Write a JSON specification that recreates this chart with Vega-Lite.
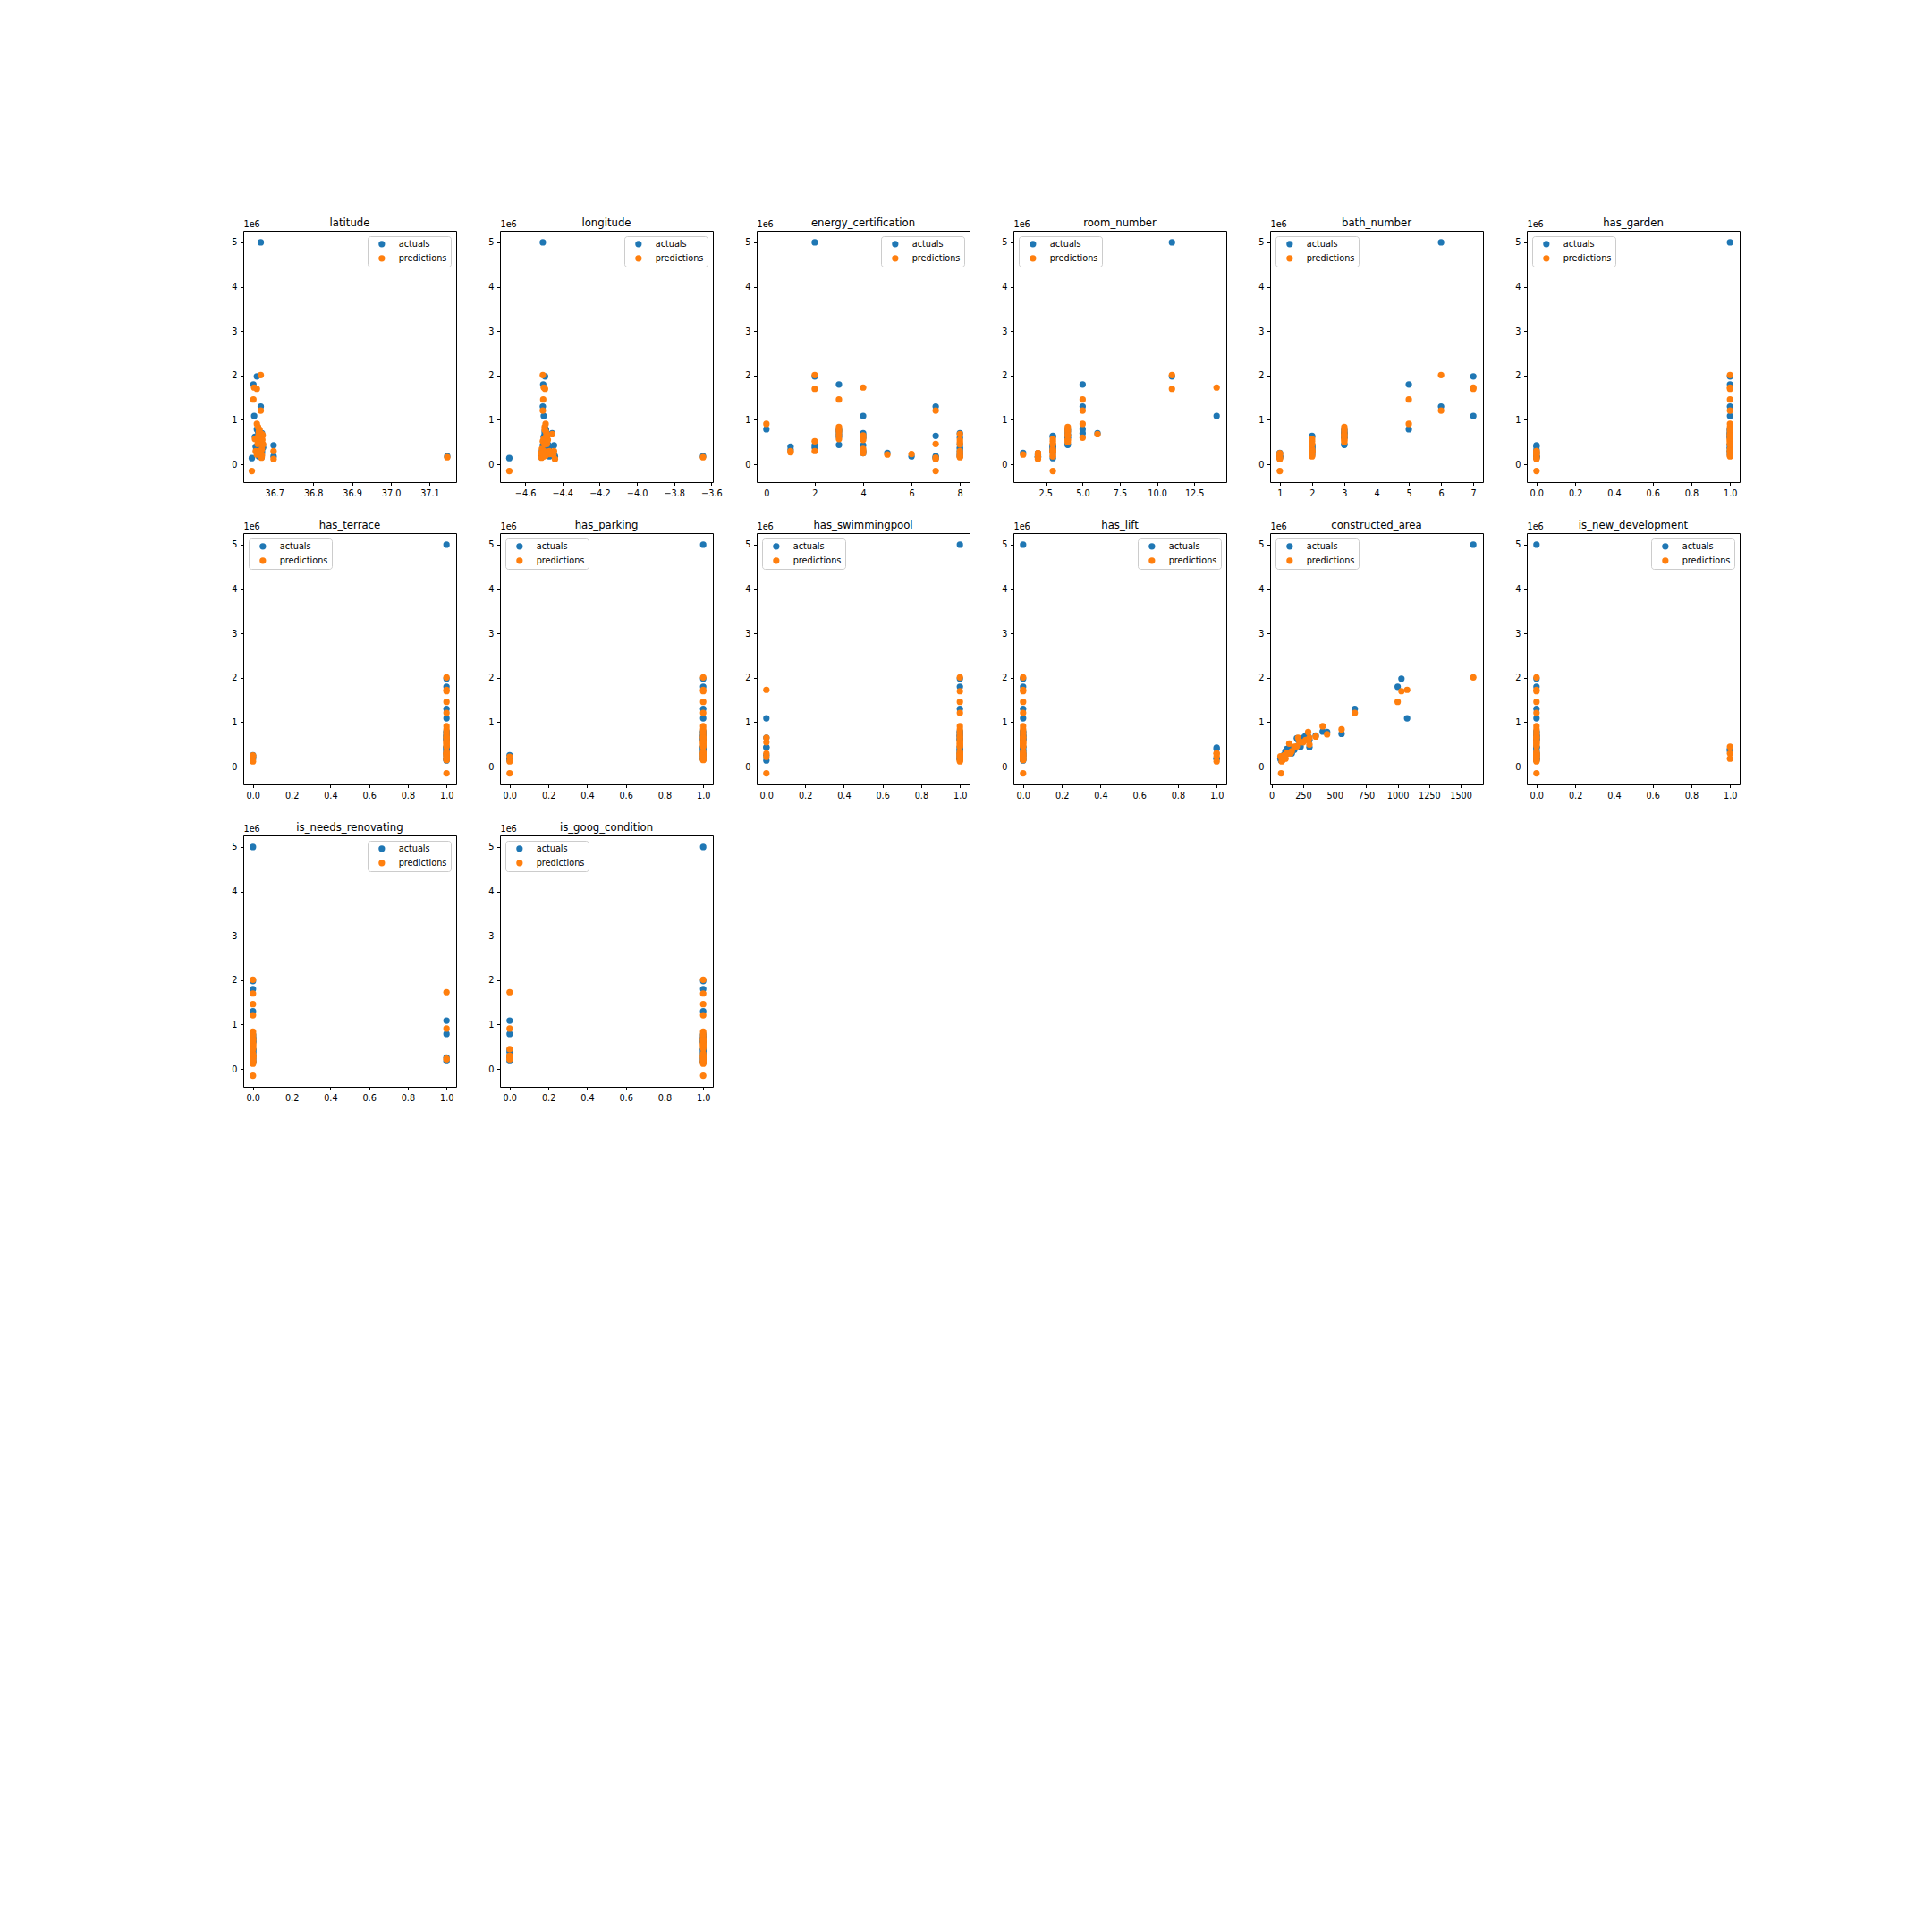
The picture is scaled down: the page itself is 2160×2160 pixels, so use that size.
{
  "$schema": "https://vega.github.io/schema/vega-lite/v6.json",
  "background": "white",
  "padding": {"left": 258, "top": 243, "right": 10, "bottom": 10},
  "data": {"values": [
    {"latitude":36.665,"longitude":-4.505,"energy_certification":2,"room_number":11,"bath_number":6,"has_garden":1,"has_terrace":1,"has_parking":1,"has_swimmingpool":1,"has_lift":0,"constructed_area":1600,"is_new_development":0,"is_needs_renovating":0,"is_goog_condition":1,"actuals":5.0,"predictions":2.01},
    {"latitude":36.655,"longitude":-4.493,"energy_certification":2,"room_number":11,"bath_number":7,"has_garden":1,"has_terrace":1,"has_parking":1,"has_swimmingpool":1,"has_lift":0,"constructed_area":1030,"is_new_development":0,"is_needs_renovating":0,"is_goog_condition":1,"actuals":1.98,"predictions":1.70},
    {"latitude":36.646,"longitude":-4.503,"energy_certification":3,"room_number":5,"bath_number":5,"has_garden":1,"has_terrace":1,"has_parking":1,"has_swimmingpool":1,"has_lift":0,"constructed_area":1000,"is_new_development":0,"is_needs_renovating":0,"is_goog_condition":1,"actuals":1.80,"predictions":1.46},
    {"latitude":36.648,"longitude":-4.500,"energy_certification":4,"room_number":14,"bath_number":7,"has_garden":1,"has_terrace":1,"has_parking":1,"has_swimmingpool":0,"has_lift":0,"constructed_area":1075,"is_new_development":0,"is_needs_renovating":1,"is_goog_condition":0,"actuals":1.09,"predictions":1.73},
    {"latitude":36.665,"longitude":-4.505,"energy_certification":7,"room_number":5,"bath_number":6,"has_garden":1,"has_terrace":1,"has_parking":1,"has_swimmingpool":1,"has_lift":0,"constructed_area":660,"is_new_development":0,"is_needs_renovating":0,"is_goog_condition":1,"actuals":1.30,"predictions":1.21},
    {"latitude":36.655,"longitude":-4.490,"energy_certification":0,"room_number":5,"bath_number":5,"has_garden":1,"has_terrace":1,"has_parking":1,"has_swimmingpool":1,"has_lift":0,"constructed_area":405,"is_new_development":0,"is_needs_renovating":1,"is_goog_condition":0,"actuals":0.79,"predictions":0.91},
    {"latitude":36.660,"longitude":-4.488,"energy_certification":3,"room_number":4,"bath_number":3,"has_garden":1,"has_terrace":1,"has_parking":1,"has_swimmingpool":1,"has_lift":0,"constructed_area":440,"is_new_development":0,"is_needs_renovating":0,"is_goog_condition":1,"actuals":0.78,"predictions":0.73},
    {"latitude":36.658,"longitude":-4.495,"energy_certification":3,"room_number":4,"bath_number":3,"has_garden":1,"has_terrace":1,"has_parking":1,"has_swimmingpool":1,"has_lift":0,"constructed_area":555,"is_new_development":0,"is_needs_renovating":0,"is_goog_condition":1,"actuals":0.74,"predictions":0.84},
    {"latitude":36.668,"longitude":-4.455,"energy_certification":8,"room_number":6,"bath_number":3,"has_garden":1,"has_terrace":1,"has_parking":1,"has_swimmingpool":1,"has_lift":0,"constructed_area":350,"is_new_development":0,"is_needs_renovating":0,"is_goog_condition":1,"actuals":0.70,"predictions":0.68},
    {"latitude":36.662,"longitude":-4.492,"energy_certification":4,"room_number":5,"bath_number":3,"has_garden":1,"has_terrace":1,"has_parking":1,"has_swimmingpool":1,"has_lift":0,"constructed_area":270,"is_new_development":0,"is_needs_renovating":0,"is_goog_condition":1,"actuals":0.70,"predictions":0.60},
    {"latitude":36.650,"longitude":-4.500,"energy_certification":3,"room_number":3,"bath_number":2,"has_garden":1,"has_terrace":1,"has_parking":1,"has_swimmingpool":1,"has_lift":0,"constructed_area":220,"is_new_development":0,"is_needs_renovating":0,"is_goog_condition":1,"actuals":0.62,"predictions":0.57},
    {"latitude":36.670,"longitude":-4.480,"energy_certification":3,"room_number":4,"bath_number":3,"has_garden":1,"has_terrace":1,"has_parking":1,"has_swimmingpool":0,"has_lift":0,"constructed_area":300,"is_new_development":0,"is_needs_renovating":0,"is_goog_condition":1,"actuals":0.44,"predictions":0.65},
    {"latitude":36.664,"longitude":-4.490,"energy_certification":8,"room_number":4,"bath_number":3,"has_garden":1,"has_terrace":1,"has_parking":1,"has_swimmingpool":1,"has_lift":0,"constructed_area":300,"is_new_development":0,"is_needs_renovating":0,"is_goog_condition":1,"actuals":0.60,"predictions":0.50},
    {"latitude":36.642,"longitude":-4.685,"energy_certification":7,"room_number":3,"bath_number":1,"has_garden":0,"has_terrace":1,"has_parking":0,"has_swimmingpool":0,"has_lift":0,"constructed_area":75,"is_new_development":0,"is_needs_renovating":0,"is_goog_condition":1,"actuals":0.14,"predictions":-0.15},
    {"latitude":37.145,"longitude":-3.645,"energy_certification":8,"room_number":2,"bath_number":1,"has_garden":0,"has_terrace":1,"has_parking":1,"has_swimmingpool":1,"has_lift":0,"constructed_area":90,"is_new_development":0,"is_needs_renovating":0,"is_goog_condition":1,"actuals":0.18,"predictions":0.16},
    {"latitude":36.698,"longitude":-4.445,"energy_certification":4,"room_number":3,"bath_number":2,"has_garden":0,"has_terrace":1,"has_parking":1,"has_swimmingpool":0,"has_lift":1,"constructed_area":150,"is_new_development":0,"is_needs_renovating":0,"is_goog_condition":0,"actuals":0.43,"predictions":0.30},
    {"latitude":36.698,"longitude":-4.440,"energy_certification":7,"room_number":2,"bath_number":1,"has_garden":0,"has_terrace":0,"has_parking":0,"has_swimmingpool":1,"has_lift":1,"constructed_area":80,"is_new_development":0,"is_needs_renovating":0,"is_goog_condition":1,"actuals":0.18,"predictions":0.12},
    {"latitude":36.660,"longitude":-4.470,"energy_certification":6,"room_number":2,"bath_number":1,"has_garden":0,"has_terrace":1,"has_parking":1,"has_swimmingpool":1,"has_lift":1,"constructed_area":70,"is_new_development":0,"is_needs_renovating":1,"is_goog_condition":0,"actuals":0.18,"predictions":0.23},
    {"latitude":36.655,"longitude":-4.448,"energy_certification":5,"room_number":1,"bath_number":1,"has_garden":0,"has_terrace":0,"has_parking":0,"has_swimmingpool":0,"has_lift":0,"constructed_area":95,"is_new_development":0,"is_needs_renovating":1,"is_goog_condition":0,"actuals":0.26,"predictions":0.22},
    {"latitude":36.652,"longitude":-4.470,"energy_certification":1,"room_number":3,"bath_number":2,"has_garden":0,"has_terrace":1,"has_parking":1,"has_swimmingpool":1,"has_lift":1,"constructed_area":120,"is_new_development":1,"is_needs_renovating":0,"is_goog_condition":1,"actuals":0.40,"predictions":0.30},
    {"latitude":36.658,"longitude":-4.500,"energy_certification":1,"room_number":3,"bath_number":2,"has_garden":0,"has_terrace":1,"has_parking":1,"has_swimmingpool":1,"has_lift":0,"constructed_area":110,"is_new_development":0,"is_needs_renovating":0,"is_goog_condition":1,"actuals":0.33,"predictions":0.27},
    {"latitude":36.662,"longitude":-4.505,"energy_certification":2,"room_number":3,"bath_number":2,"has_garden":1,"has_terrace":1,"has_parking":1,"has_swimmingpool":1,"has_lift":0,"constructed_area":140,"is_new_development":0,"is_needs_renovating":0,"is_goog_condition":1,"actuals":0.43,"predictions":0.52},
    {"latitude":36.666,"longitude":-4.498,"energy_certification":2,"room_number":3,"bath_number":2,"has_garden":1,"has_terrace":1,"has_parking":1,"has_swimmingpool":1,"has_lift":0,"constructed_area":130,"is_new_development":0,"is_needs_renovating":0,"is_goog_condition":1,"actuals":0.38,"predictions":0.30},
    {"latitude":36.660,"longitude":-4.487,"energy_certification":4,"room_number":4,"bath_number":3,"has_garden":1,"has_terrace":1,"has_parking":1,"has_swimmingpool":0,"has_lift":0,"constructed_area":250,"is_new_development":0,"is_needs_renovating":0,"is_goog_condition":1,"actuals":0.65,"predictions":0.55},
    {"latitude":36.668,"longitude":-4.510,"energy_certification":4,"room_number":3,"bath_number":2,"has_garden":1,"has_terrace":1,"has_parking":1,"has_swimmingpool":1,"has_lift":0,"constructed_area":160,"is_new_development":0,"is_needs_renovating":0,"is_goog_condition":1,"actuals":0.30,"predictions":0.35},
    {"latitude":36.663,"longitude":-4.508,"energy_certification":4,"room_number":2,"bath_number":1,"has_garden":0,"has_terrace":1,"has_parking":1,"has_swimmingpool":1,"has_lift":0,"constructed_area":100,"is_new_development":0,"is_needs_renovating":0,"is_goog_condition":1,"actuals":0.25,"predictions":0.25},
    {"latitude":36.657,"longitude":-4.483,"energy_certification":7,"room_number":3,"bath_number":2,"has_garden":1,"has_terrace":1,"has_parking":1,"has_swimmingpool":1,"has_lift":0,"constructed_area":200,"is_new_development":0,"is_needs_renovating":0,"is_goog_condition":1,"actuals":0.64,"predictions":0.46},
    {"latitude":36.667,"longitude":-4.512,"energy_certification":7,"room_number":2,"bath_number":1,"has_garden":0,"has_terrace":1,"has_parking":1,"has_swimmingpool":1,"has_lift":0,"constructed_area":85,"is_new_development":0,"is_needs_renovating":0,"is_goog_condition":1,"actuals":0.16,"predictions":0.15},
    {"latitude":36.669,"longitude":-4.478,"energy_certification":8,"room_number":4,"bath_number":3,"has_garden":1,"has_terrace":1,"has_parking":1,"has_swimmingpool":1,"has_lift":0,"constructed_area":230,"is_new_development":0,"is_needs_renovating":0,"is_goog_condition":1,"actuals":0.45,"predictions":0.55},
    {"latitude":36.671,"longitude":-4.495,"energy_certification":8,"room_number":3,"bath_number":2,"has_garden":1,"has_terrace":1,"has_parking":1,"has_swimmingpool":1,"has_lift":0,"constructed_area":180,"is_new_development":1,"is_needs_renovating":0,"is_goog_condition":0,"actuals":0.38,"predictions":0.45},
    {"latitude":36.664,"longitude":-4.505,"energy_certification":8,"room_number":3,"bath_number":2,"has_garden":1,"has_terrace":1,"has_parking":1,"has_swimmingpool":1,"has_lift":0,"constructed_area":120,"is_new_development":0,"is_needs_renovating":0,"is_goog_condition":0,"actuals":0.30,"predictions":0.30},
    {"latitude":36.660,"longitude":-4.515,"energy_certification":8,"room_number":2,"bath_number":2,"has_garden":1,"has_terrace":0,"has_parking":1,"has_swimmingpool":1,"has_lift":0,"constructed_area":100,"is_new_development":0,"is_needs_renovating":0,"is_goog_condition":1,"actuals":0.22,"predictions":0.25},
    {"latitude":36.667,"longitude":-4.500,"energy_certification":8,"room_number":3,"bath_number":2,"has_garden":1,"has_terrace":1,"has_parking":1,"has_swimmingpool":1,"has_lift":0,"constructed_area":110,"is_new_development":1,"is_needs_renovating":0,"is_goog_condition":1,"actuals":0.35,"predictions":0.18},
    {"latitude":36.668,"longitude":-4.490,"energy_certification":8,"room_number":3,"bath_number":2,"has_garden":1,"has_terrace":1,"has_parking":1,"has_swimmingpool":1,"has_lift":0,"constructed_area":95,"is_new_development":0,"is_needs_renovating":0,"is_goog_condition":1,"actuals":0.25,"predictions":0.20},
    {"latitude":36.662,"longitude":-4.495,"energy_certification":3,"room_number":4,"bath_number":3,"has_garden":1,"has_terrace":1,"has_parking":1,"has_swimmingpool":1,"has_lift":0,"constructed_area":290,"is_new_development":0,"is_needs_renovating":0,"is_goog_condition":1,"actuals":0.68,"predictions":0.78},
    {"latitude":36.659,"longitude":-4.485,"energy_certification":4,"room_number":4,"bath_number":3,"has_garden":1,"has_terrace":1,"has_parking":1,"has_swimmingpool":1,"has_lift":0,"constructed_area":210,"is_new_development":0,"is_needs_renovating":0,"is_goog_condition":1,"actuals":0.60,"predictions":0.65}
  ]},
  "transform": [{"fold": ["actuals", "predictions"], "as": ["series", "price"]}],
  "columns": 6,
  "spacing": {"row": 57, "column": 49},
  "bounds": "flush",
  "resolve": {"scale": {"x": "independent", "y": "independent", "color": "independent"}, "legend": {"color": "independent"}},
  "concat": [
    {"title": "latitude", "width": 238, "height": 281, "mark": {"type": "point", "filled": true, "opacity": 1, "size": 52},
     "encoding": {
       "x": {"field": "latitude", "type": "quantitative", "title": null, "scale": {"domain": [36.62, 37.168], "nice": false, "zero": false}, "axis": {"values": [36.7, 36.8, 36.9, 37.0, 37.1], "format": ".1f"}},
       "y": {"field": "price", "type": "quantitative", "title": "1e6", "scale": {"domain": [-0.4, 5.26], "nice": false, "zero": false}, "axis": {"values": [0, 1, 2, 3, 4, 5], "format": "d"}},
       "color": {"field": "series", "type": "nominal", "scale": {"domain": ["actuals", "predictions"], "range": ["#1f77b4", "#ff7f0e"]}, "legend": {"orient": "top-right"}},
       "order": {"field": "series"}}},
    {"title": "longitude", "width": 238, "height": 281, "mark": {"type": "point", "filled": true, "opacity": 1, "size": 52},
     "encoding": {
       "x": {"field": "longitude", "type": "quantitative", "title": null, "scale": {"domain": [-4.735, -3.592], "nice": false, "zero": false}, "axis": {"values": [-4.6, -4.4, -4.2, -4.0, -3.8, -3.6], "format": ".1f"}},
       "y": {"field": "price", "type": "quantitative", "title": "1e6", "scale": {"domain": [-0.4, 5.26], "nice": false, "zero": false}, "axis": {"values": [0, 1, 2, 3, 4, 5], "format": "d"}},
       "color": {"field": "series", "type": "nominal", "scale": {"domain": ["actuals", "predictions"], "range": ["#1f77b4", "#ff7f0e"]}, "legend": {"orient": "top-right"}},
       "order": {"field": "series"}}},
    {"title": "energy_certification", "width": 238, "height": 281, "mark": {"type": "point", "filled": true, "opacity": 1, "size": 52},
     "encoding": {
       "x": {"field": "energy_certification", "type": "quantitative", "title": null, "scale": {"domain": [-0.4, 8.4], "nice": false, "zero": false}, "axis": {"values": [0, 2, 4, 6, 8], "format": "d"}},
       "y": {"field": "price", "type": "quantitative", "title": "1e6", "scale": {"domain": [-0.4, 5.26], "nice": false, "zero": false}, "axis": {"values": [0, 1, 2, 3, 4, 5], "format": "d"}},
       "color": {"field": "series", "type": "nominal", "scale": {"domain": ["actuals", "predictions"], "range": ["#1f77b4", "#ff7f0e"]}, "legend": {"orient": "top-right"}},
       "order": {"field": "series"}}},
    {"title": "room_number", "width": 238, "height": 281, "mark": {"type": "point", "filled": true, "opacity": 1, "size": 52},
     "encoding": {
       "x": {"field": "room_number", "type": "quantitative", "title": null, "scale": {"domain": [0.35, 14.65], "nice": false, "zero": false}, "axis": {"values": [2.5, 5, 7.5, 10, 12.5], "format": ".1f"}},
       "y": {"field": "price", "type": "quantitative", "title": "1e6", "scale": {"domain": [-0.4, 5.26], "nice": false, "zero": false}, "axis": {"values": [0, 1, 2, 3, 4, 5], "format": "d"}},
       "color": {"field": "series", "type": "nominal", "scale": {"domain": ["actuals", "predictions"], "range": ["#1f77b4", "#ff7f0e"]}, "legend": {"orient": "top-left"}},
       "order": {"field": "series"}}},
    {"title": "bath_number", "width": 238, "height": 281, "mark": {"type": "point", "filled": true, "opacity": 1, "size": 52},
     "encoding": {
       "x": {"field": "bath_number", "type": "quantitative", "title": null, "scale": {"domain": [0.7, 7.3], "nice": false, "zero": false}, "axis": {"values": [1, 2, 3, 4, 5, 6, 7], "format": "d"}},
       "y": {"field": "price", "type": "quantitative", "title": "1e6", "scale": {"domain": [-0.4, 5.26], "nice": false, "zero": false}, "axis": {"values": [0, 1, 2, 3, 4, 5], "format": "d"}},
       "color": {"field": "series", "type": "nominal", "scale": {"domain": ["actuals", "predictions"], "range": ["#1f77b4", "#ff7f0e"]}, "legend": {"orient": "top-left"}},
       "order": {"field": "series"}}},
    {"title": "has_garden", "width": 238, "height": 281, "mark": {"type": "point", "filled": true, "opacity": 1, "size": 52},
     "encoding": {
       "x": {"field": "has_garden", "type": "quantitative", "title": null, "scale": {"domain": [-0.05, 1.05], "nice": false, "zero": false}, "axis": {"values": [0, 0.2, 0.4, 0.6, 0.8, 1], "format": ".1f"}},
       "y": {"field": "price", "type": "quantitative", "title": "1e6", "scale": {"domain": [-0.4, 5.26], "nice": false, "zero": false}, "axis": {"values": [0, 1, 2, 3, 4, 5], "format": "d"}},
       "color": {"field": "series", "type": "nominal", "scale": {"domain": ["actuals", "predictions"], "range": ["#1f77b4", "#ff7f0e"]}, "legend": {"orient": "top-left"}},
       "order": {"field": "series"}}},
    {"title": "has_terrace", "width": 238, "height": 281, "mark": {"type": "point", "filled": true, "opacity": 1, "size": 52},
     "encoding": {
       "x": {"field": "has_terrace", "type": "quantitative", "title": null, "scale": {"domain": [-0.05, 1.05], "nice": false, "zero": false}, "axis": {"values": [0, 0.2, 0.4, 0.6, 0.8, 1], "format": ".1f"}},
       "y": {"field": "price", "type": "quantitative", "title": "1e6", "scale": {"domain": [-0.4, 5.26], "nice": false, "zero": false}, "axis": {"values": [0, 1, 2, 3, 4, 5], "format": "d"}},
       "color": {"field": "series", "type": "nominal", "scale": {"domain": ["actuals", "predictions"], "range": ["#1f77b4", "#ff7f0e"]}, "legend": {"orient": "top-left"}},
       "order": {"field": "series"}}},
    {"title": "has_parking", "width": 238, "height": 281, "mark": {"type": "point", "filled": true, "opacity": 1, "size": 52},
     "encoding": {
       "x": {"field": "has_parking", "type": "quantitative", "title": null, "scale": {"domain": [-0.05, 1.05], "nice": false, "zero": false}, "axis": {"values": [0, 0.2, 0.4, 0.6, 0.8, 1], "format": ".1f"}},
       "y": {"field": "price", "type": "quantitative", "title": "1e6", "scale": {"domain": [-0.4, 5.26], "nice": false, "zero": false}, "axis": {"values": [0, 1, 2, 3, 4, 5], "format": "d"}},
       "color": {"field": "series", "type": "nominal", "scale": {"domain": ["actuals", "predictions"], "range": ["#1f77b4", "#ff7f0e"]}, "legend": {"orient": "top-left"}},
       "order": {"field": "series"}}},
    {"title": "has_swimmingpool", "width": 238, "height": 281, "mark": {"type": "point", "filled": true, "opacity": 1, "size": 52},
     "encoding": {
       "x": {"field": "has_swimmingpool", "type": "quantitative", "title": null, "scale": {"domain": [-0.05, 1.05], "nice": false, "zero": false}, "axis": {"values": [0, 0.2, 0.4, 0.6, 0.8, 1], "format": ".1f"}},
       "y": {"field": "price", "type": "quantitative", "title": "1e6", "scale": {"domain": [-0.4, 5.26], "nice": false, "zero": false}, "axis": {"values": [0, 1, 2, 3, 4, 5], "format": "d"}},
       "color": {"field": "series", "type": "nominal", "scale": {"domain": ["actuals", "predictions"], "range": ["#1f77b4", "#ff7f0e"]}, "legend": {"orient": "top-left"}},
       "order": {"field": "series"}}},
    {"title": "has_lift", "width": 238, "height": 281, "mark": {"type": "point", "filled": true, "opacity": 1, "size": 52},
     "encoding": {
       "x": {"field": "has_lift", "type": "quantitative", "title": null, "scale": {"domain": [-0.05, 1.05], "nice": false, "zero": false}, "axis": {"values": [0, 0.2, 0.4, 0.6, 0.8, 1], "format": ".1f"}},
       "y": {"field": "price", "type": "quantitative", "title": "1e6", "scale": {"domain": [-0.4, 5.26], "nice": false, "zero": false}, "axis": {"values": [0, 1, 2, 3, 4, 5], "format": "d"}},
       "color": {"field": "series", "type": "nominal", "scale": {"domain": ["actuals", "predictions"], "range": ["#1f77b4", "#ff7f0e"]}, "legend": {"orient": "top-right"}},
       "order": {"field": "series"}}},
    {"title": "constructed_area", "width": 238, "height": 281, "mark": {"type": "point", "filled": true, "opacity": 1, "size": 52},
     "encoding": {
       "x": {"field": "constructed_area", "type": "quantitative", "title": null, "scale": {"domain": [-12, 1677], "nice": false, "zero": false}, "axis": {"values": [0, 250, 500, 750, 1000, 1250, 1500], "format": "d"}},
       "y": {"field": "price", "type": "quantitative", "title": "1e6", "scale": {"domain": [-0.4, 5.26], "nice": false, "zero": false}, "axis": {"values": [0, 1, 2, 3, 4, 5], "format": "d"}},
       "color": {"field": "series", "type": "nominal", "scale": {"domain": ["actuals", "predictions"], "range": ["#1f77b4", "#ff7f0e"]}, "legend": {"orient": "top-left"}},
       "order": {"field": "series"}}},
    {"title": "is_new_development", "width": 238, "height": 281, "mark": {"type": "point", "filled": true, "opacity": 1, "size": 52},
     "encoding": {
       "x": {"field": "is_new_development", "type": "quantitative", "title": null, "scale": {"domain": [-0.05, 1.05], "nice": false, "zero": false}, "axis": {"values": [0, 0.2, 0.4, 0.6, 0.8, 1], "format": ".1f"}},
       "y": {"field": "price", "type": "quantitative", "title": "1e6", "scale": {"domain": [-0.4, 5.26], "nice": false, "zero": false}, "axis": {"values": [0, 1, 2, 3, 4, 5], "format": "d"}},
       "color": {"field": "series", "type": "nominal", "scale": {"domain": ["actuals", "predictions"], "range": ["#1f77b4", "#ff7f0e"]}, "legend": {"orient": "top-right"}},
       "order": {"field": "series"}}},
    {"title": "is_needs_renovating", "width": 238, "height": 281, "mark": {"type": "point", "filled": true, "opacity": 1, "size": 52},
     "encoding": {
       "x": {"field": "is_needs_renovating", "type": "quantitative", "title": null, "scale": {"domain": [-0.05, 1.05], "nice": false, "zero": false}, "axis": {"values": [0, 0.2, 0.4, 0.6, 0.8, 1], "format": ".1f"}},
       "y": {"field": "price", "type": "quantitative", "title": "1e6", "scale": {"domain": [-0.4, 5.26], "nice": false, "zero": false}, "axis": {"values": [0, 1, 2, 3, 4, 5], "format": "d"}},
       "color": {"field": "series", "type": "nominal", "scale": {"domain": ["actuals", "predictions"], "range": ["#1f77b4", "#ff7f0e"]}, "legend": {"orient": "top-right"}},
       "order": {"field": "series"}}},
    {"title": "is_goog_condition", "width": 238, "height": 281, "mark": {"type": "point", "filled": true, "opacity": 1, "size": 52},
     "encoding": {
       "x": {"field": "is_goog_condition", "type": "quantitative", "title": null, "scale": {"domain": [-0.05, 1.05], "nice": false, "zero": false}, "axis": {"values": [0, 0.2, 0.4, 0.6, 0.8, 1], "format": ".1f"}},
       "y": {"field": "price", "type": "quantitative", "title": "1e6", "scale": {"domain": [-0.4, 5.26], "nice": false, "zero": false}, "axis": {"values": [0, 1, 2, 3, 4, 5], "format": "d"}},
       "color": {"field": "series", "type": "nominal", "scale": {"domain": ["actuals", "predictions"], "range": ["#1f77b4", "#ff7f0e"]}, "legend": {"orient": "top-left"}},
       "order": {"field": "series"}}}
  ],
  "config": {
    "view": {"stroke": "black", "strokeWidth": 1},
    "font": "DejaVu Sans",
    "axis": {"domain": false, "grid": false, "tickColor": "black", "tickSize": 3.5, "tickWidth": 1, "labelColor": "black", "labelFont": "DejaVu Sans", "labelFontSize": 9.7, "labelPadding": 3.5, "labelFlush": false, "labelOverlap": false, "titleFont": "DejaVu Sans", "titleFontSize": 9.7, "titleFontWeight": "normal", "titleColor": "black"},
    "axisY": {"titleAngle": 0, "titleAlign": "left", "titleBaseline": "bottom", "titleX": 0, "titleY": -3},
    "title": {"font": "DejaVu Sans", "fontSize": 11.7, "fontWeight": "normal", "color": "black", "offset": -11, "anchor": "middle"},
    "legend": {"title": null, "labelFont": "DejaVu Sans", "labelFontSize": 9.7, "labelColor": "black", "symbolType": "circle", "symbolSize": 52, "symbolStrokeWidth": 0, "padding": 4, "offset": 6, "strokeColor": "#cccccc", "fillColor": "rgba(255,255,255,0.8)", "cornerRadius": 3, "rowPadding": 5, "symbolOffset": 7, "labelOffset": 14}
  }
}
